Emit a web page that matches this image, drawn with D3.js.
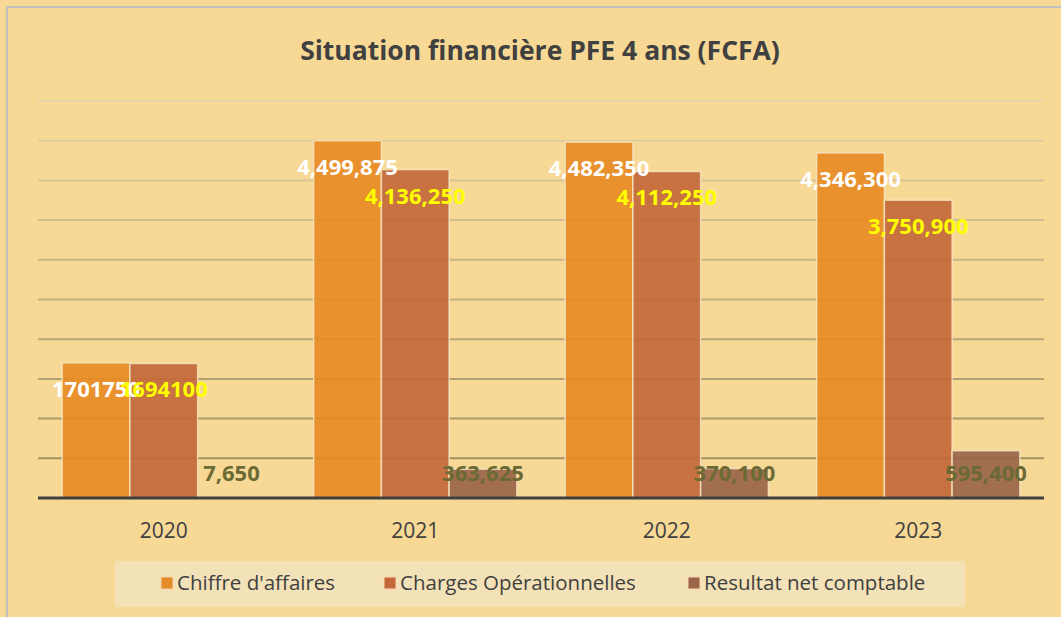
<!DOCTYPE html>
<html>
<head>
<meta charset="utf-8">
<script src="https://cdn.jsdelivr.net/npm/d3@7"></script>
<style>
  html, body { margin: 0; padding: 0; background: #f7d995; }
  svg { display: block; font-family: "Open Sans", "Noto Sans", sans-serif; }
</style>
</head>
<body>
<svg id="chart" width="1061" height="617"></svg>
<script>
const years = ["2020", "2021", "2022", "2023"];
const seriesNames = ["Chiffre d'affaires", "Charges Opérationnelles", "Resultat net comptable"];
const chiffreAffaires = [1701750, 4499875, 4482350, 4346300];
const chargesOp = [1694100, 4136250, 4112250, 3750900];
const resultatNet = [7650, 363625, 370100, 595400];
const labelText = [
  ["1701750", "4,499,875", "4,482,350", "4,346,300"],
  ["1694100", "4,136,250", "4,112,250", "3,750,900"],
  ["7,650", "363,625", "370,100", "595,400"]
];
const gridTicks = d3.range(0, 5000001, 500000);

const colors = ["#e68b25", "#c4683a", "#9a6549"];
const labelColors = ["#ffffff", "#ffff00", "#6b6a34"];

const svg = d3.select("#chart");
const width = 1061, height = 617;
const margin = { left: 38, right: 17, top: 101, bottom: 119 };

svg.append("rect").attr("width", width).attr("height", height).attr("fill", "#f7d995");
svg.append("path")
  .attr("d", `M7,${height} V7 H${width}`)
  .attr("fill", "none").attr("stroke", "#c2c0bb").attr("stroke-width", 2);

svg.append("text")
  .attr("x", 540).attr("y", 60)
  .attr("text-anchor", "middle")
  .attr("font-size", 26.5).attr("font-weight", 700)
  .attr("fill", "#404040")
  .text("Situation financière PFE 4 ans (FCFA)");

const x = d3.scaleBand().domain(years).range([margin.left, width - margin.right]).paddingOuter(0.096).paddingInner(0.192);
const xs = d3.scaleBand().domain(d3.range(3)).range([0, x.bandwidth()]);
const y = d3.scaleLinear().domain([0, 5000000]).range([height - margin.bottom, margin.top]);
const gridColor = d3.scaleLinear().domain([5000000, 0]).range(["#e6d3a9", "#9a8a5a"]);

// gridlines
svg.append("g").selectAll("line")
  .data(gridTicks.filter(d => d > 0))
  .join("line")
  .attr("x1", margin.left).attr("x2", width - margin.right)
  .attr("y1", d => y(d)).attr("y2", d => y(d))
  .attr("stroke", d => gridColor(d)).attr("stroke-width", 2);

const series = [chiffreAffaires, chargesOp, resultatNet];
const bars = [];
series.forEach((vals, s) => {
  vals.forEach((v, i) => bars.push({ s, i, v, year: years[i] }));
});

svg.append("g").selectAll("rect")
  .data(bars)
  .join("rect")
  .attr("x", d => x(d.year) + xs(d.s))
  .attr("y", d => y(d.v))
  .attr("width", xs.bandwidth())
  .attr("height", d => y(0) - y(d.v))
  .attr("fill", d => colors[d.s])
  .attr("fill-opacity", 0.93)
  .attr("stroke", "#f6e7c6")
  .attr("stroke-opacity", 0.8)
  .attr("stroke-width", 1.5);

// baseline axis
svg.append("line")
  .attr("x1", margin.left).attr("x2", width - margin.right)
  .attr("y1", y(0)).attr("y2", y(0))
  .attr("stroke", "#404040").attr("stroke-width", 3);

const xAxis = svg.append("g")
  .attr("transform", `translate(0,${y(0)})`)
  .call(d3.axisBottom(x).tickSize(0).tickPadding(25));
xAxis.select(".domain").remove();
xAxis.selectAll("text").attr("font-size", 21).attr("fill", "#404040")
  .attr("font-family", "'Open Sans', sans-serif");

// labels
svg.append("g").selectAll("text")
  .data(bars)
  .join("text")
  .attr("x", d => x(d.year) + xs(d.s) + xs.bandwidth() / 2)
  .attr("y", d => d.s === 2 ? y(0) - 17 : y(d.v) + 34)
  .attr("text-anchor", "middle")
  .attr("font-size", 22).attr("font-weight", 700)
  .attr("fill", d => labelColors[d.s])
  .text(d => labelText[d.s][d.i]);

// legend
const legend = svg.append("g");
legend.append("rect")
  .attr("x", 115).attr("y", 561).attr("width", 850).attr("height", 46)
  .attr("fill", "#f3e2b7");
const legendX = [161, 384, 688];
seriesNames.forEach((name, s) => {
  const g = legend.append("g").attr("transform", `translate(${legendX[s]},577)`);
  g.append("rect").attr("width", 12).attr("height", 12)
    .attr("fill", colors[s]).attr("stroke", "#f6d6b0").attr("stroke-width", 1);
  g.append("text").attr("x", 16).attr("y", 13)
    .attr("font-size", 20.5).attr("fill", "#404040")
    .text(name);
});
</script>
</body>
</html>
